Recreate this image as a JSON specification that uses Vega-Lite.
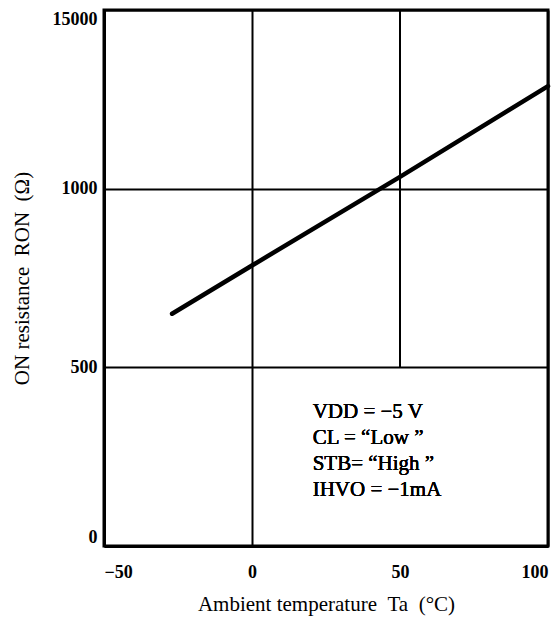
{
  "$schema": "https://vega.github.io/schema/vega-lite/v6.json",
  "width": 444,
  "height": 536,
  "autosize": "none",
  "padding": {"left": 104, "top": 10, "right": 9, "bottom": 74},
  "background": "white",
  "config": {
    "view": {"stroke": "black", "strokeWidth": 3},
    "font": "Liberation Serif",
    "axis": {
      "domainColor": "black",
      "domainWidth": 3,
      "gridColor": "black",
      "gridWidth": 2,
      "gridOpacity": 1,
      "ticks": false,
      "labelFont": "Liberation Serif",
      "labelFontWeight": "bold",
      "labelFontSize": 18,
      "labelColor": "black",
      "titleFont": "Liberation Serif",
      "titleFontWeight": "normal",
      "titleFontSize": 21,
      "titleColor": "black",
      "labelFlush": true
    }
  },
  "data": {
    "values": [
      {"t": -27, "r": 650},
      {"t": 0, "r": 785},
      {"t": 50, "r": 1033},
      {"t": 100, "r": 1287}
    ]
  },
  "layer": [
    {
      "mark": {"type": "line", "color": "black", "strokeWidth": 4.5, "strokeCap": "round"},
      "encoding": {
        "x": {
          "field": "t", "type": "quantitative",
          "scale": {"domain": [-50, 100], "nice": false, "zero": false},
          "axis": {"grid": true, "values": [-50, 0, 50, 100], "gridDash": {"condition": {"test": "datum.value == 50", "value": [0, 1000]}, "value": []}, "labelExpr": "replace(datum.label, '-', '−')", "labelPadding": 17, "title": "Ambient temperature\u00a0\u00a0Ta\u00a0\u00a0(°C)", "titlePadding": 12}
        },
        "y": {
          "field": "r", "type": "quantitative",
          "scale": {"domain": [0, 1500], "nice": false},
          "axis": {"grid": true, "values": [0, 500, 1000, 1500], "labelExpr": "datum.value == 1500 ? '15000' : datum.label", "format": "d", "labelPadding": 7, "title": "ON resistance\u00a0\u00a0RON\u00a0\u00a0(Ω)", "titlePadding": 20}
        }
      }
    },
    {
      "mark": {"type": "rule", "color": "black", "strokeWidth": 2},
      "encoding": {
        "x": {"datum": 50},
        "y": {"datum": 500},
        "y2": {"datum": 1500}
      }
    },
    {
      "mark": {"type": "text", "align": "left", "baseline": "top", "font": "Liberation Serif", "fontWeight": 400, "fontSize": 21, "lineHeight": 26, "color": "black"},
      "encoding": {
        "x": {"datum": 20.5},
        "y": {"datum": 405},
        "text": {"value": ["VDD = −5 V", "CL = “Low ”", "STB= “High ”", "IHVO = −1mA"]}
      }
    }
  ]
}
